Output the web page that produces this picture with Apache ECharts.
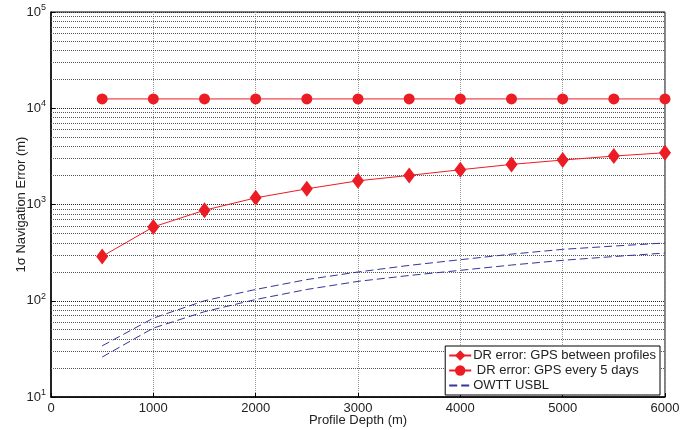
<!DOCTYPE html>
<html>
<head>
<meta charset="utf-8">
<script src="https://cdn.jsdelivr.net/npm/echarts@6/dist/echarts.min.js"></script>
<style>
  html, body { margin: 0; padding: 0; background: #fff; }
  #chart { width: 694px; height: 430px; }
</style>
</head>
<body>
<div id="chart"></div>
<script>
// profile depth (m)
let depths = [500, 1000, 1500, 2000, 2500, 3000, 3500, 4000, 4500, 5000, 5500, 6000];

// 1 sigma navigation error (m)
let drBetweenProfiles = [289, 585, 872, 1172, 1455, 1762, 2005, 2296, 2610, 2896, 3187, 3451];
let drEvery5Days = [12500, 12500, 12500, 12500, 12500, 12500, 12500, 12500, 12500, 12500, 12500, 12500];
let owttUpper = [34, 66, 100, 131, 166, 199, 233, 267, 305, 342, 370, 398];
let owttLower = [26, 52, 77, 103, 131, 159, 183, 207, 235, 263, 288, 313];

let decades = [10, 100, 1000, 10000, 100000];

let fontFamily = '"Liberation Sans", Arial, sans-serif';
let red = '#ec1c24';
let blue = '#35359a';

// minor log grid lines 2..9 x each decade
let minorLines = [];
decades.slice(0, -1).forEach(d => {
    for (let k = 2; k <= 9; k++) minorLines.push({ yAxis: d * k });
});

let pairs = arr => depths.map((d, i) => [d, arr[i]]);

let chart = echarts.init(document.getElementById('chart'), null, { renderer: 'canvas' });

let option = {
    animation: false,
    backgroundColor: '#fff',
    textStyle: { fontFamily: fontFamily },
    grid: {
        left: 51,
        right: 29,
        top: 12,
        bottom: 33,
        outerBoundsMode: 'none',
        containLabel: false,
        show: true,
        borderColor: '#000',
        borderWidth: 1
    },
    legend: {
        orient: 'vertical',
        right: 34,
        bottom: 35,
        backgroundColor: '#fff',
        borderColor: '#000',
        borderWidth: 1,
        borderRadius: 0,
        padding: [3, 4, 3, 3],
        itemGap: 2,
        itemWidth: 22,
        itemHeight: 13,
        align: 'left',
        textStyle: { fontSize: 13, color: '#222', fontFamily: fontFamily, padding: [0, 0, 0, -3] },
        data: [
            { name: 'DR error: GPS between profiles' },
            { name: ' DR error: GPS every 5 days' },
            { name: 'OWTT USBL', itemStyle: { opacity: 0 } }
        ]
    },
    xAxis: {
        type: 'value',
        min: 0,
        max: 6000,
        interval: 1000,
        name: 'Profile Depth (m)',
        nameLocation: 'middle',
        nameGap: 17,
        nameMoveOverlap: false,
        nameTextStyle: { fontSize: 13, color: '#222', fontFamily: fontFamily, verticalAlign: 'top' },
        axisLine: { lineStyle: { color: '#000', width: 1.5 } },
        axisTick: { inside: true, length: 4, lineStyle: { color: '#000' } },
        axisLabel: { fontSize: 13, color: '#222', margin: 5, formatter: v => String(v) },
        splitLine: { show: true, lineStyle: { type: 'dotted', color: '#999', width: 1 } }
    },
    yAxis: {
        type: 'log',
        logBase: 10,
        min: 10,
        max: 100000,
        name: '1σ Navigation Error (m)',
        nameLocation: 'middle',
        nameRotate: 90,
        nameGap: 23,
        nameMoveOverlap: false,
        nameTextStyle: { fontSize: 13, color: '#222', fontFamily: fontFamily },
        axisLine: { lineStyle: { color: '#000', width: 1.5 } },
        axisTick: { inside: true, length: 4, lineStyle: { color: '#000' } },
        axisLabel: {
            color: '#222',
            margin: 5,
            formatter: v => '{b|10}{s|' + Math.round(Math.log10(v)) + '}',
            rich: {
                b: { fontSize: 13, color: '#222', fontFamily: fontFamily },
                s: { fontSize: 9, color: '#222', fontFamily: fontFamily, padding: [0, 0, 9, 0] }
            }
        },
        splitLine: { show: true, lineStyle: { type: 'dotted', color: '#222', width: 1 } }
    },
    series: [
        {
            name: 'DR error: GPS between profiles',
            type: 'line',
            data: pairs(drBetweenProfiles),
            symbol: 'diamond',
            symbolSize: [12, 16],
            itemStyle: { color: red },
            lineStyle: { color: red, width: 1 },
            z: 5,
            markLine: {
                silent: true,
                symbol: ['none', 'none'],
                label: { show: false },
                lineStyle: { type: 'dotted', color: '#555', width: 1 },
                emphasis: { disabled: true },
                data: minorLines,
                z: 1
            }
        },
        {
            name: ' DR error: GPS every 5 days',
            type: 'line',
            data: pairs(drEvery5Days),
            symbol: 'circle',
            symbolSize: 11,
            itemStyle: { color: red },
            lineStyle: { color: red, width: 1 },
            z: 5
        },
        {
            name: 'OWTT USBL',
            type: 'line',
            data: pairs(owttUpper),
            showSymbol: false,
            symbol: 'none',
            itemStyle: { color: blue },
            lineStyle: { color: blue, width: 1, type: [8, 4] },
            z: 4
        },
        {
            name: 'OWTT USBL',
            type: 'line',
            data: pairs(owttLower),
            showSymbol: false,
            symbol: 'none',
            itemStyle: { color: blue },
            lineStyle: { color: blue, width: 1, type: [8, 4] },
            z: 4
        }
    ]
};

chart.setOption(option);
</script>
</body>
</html>
